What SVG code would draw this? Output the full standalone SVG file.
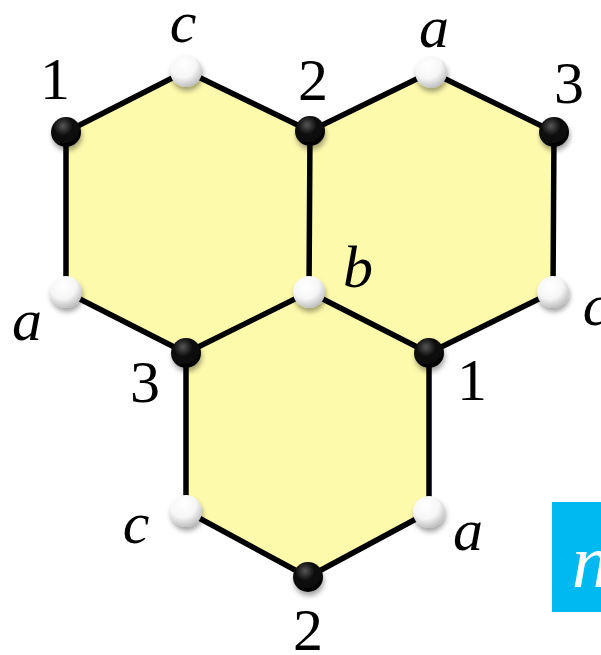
<svg xmlns="http://www.w3.org/2000/svg" width="601" height="655" viewBox="0 0 601 655">
<style>
.hex{fill:#FEFAAC;stroke:none}
.edge{stroke:#000;stroke-width:5.5;stroke-linecap:round}
.w{fill:url(#gw)}
.b{fill:url(#gb)}
.dot{filter:url(#sh)}
.lbl{font-family:"Liberation Serif","Times New Roman",serif;font-size:60px;fill:#000;text-anchor:middle}
.it{font-style:italic}
</style>
<defs>
<radialGradient id="gw" cx="0.4" cy="0.3" r="0.75">
<stop offset="0" stop-color="#ffffff"/>
<stop offset="0.55" stop-color="#f6f6f6"/>
<stop offset="1" stop-color="#b8b8b8"/>
</radialGradient>
<radialGradient id="gb" cx="0.4" cy="0.3" r="0.75">
<stop offset="0" stop-color="#555"/>
<stop offset="0.4" stop-color="#111"/>
<stop offset="1" stop-color="#000"/>
</radialGradient>
<filter id="sh" x="-50%" y="-50%" width="200%" height="200%">
<feDropShadow dx="1" dy="4" stdDeviation="2.5" flood-color="#000" flood-opacity="0.35"/>
</filter>
</defs>
<rect width="601" height="655" fill="#fff"/>
<g id="hex-top-left"><polygon class="hex" points="186,71 66,132 66,292 186,353 309,292 310,131"/></g>
<g id="hex-top-right"><polygon class="hex" points="431,72 310,131 309,292 429,353 553,292 554,132"/></g>
<g id="hex-bottom"><polygon class="hex" points="309,292 186,353 186,511 308,577 429,512 429,353"/></g>
<g id="connectors">
<line class="edge" x1="186" y1="71" x2="66" y2="132"/>
<line class="edge" x1="66" y1="132" x2="66" y2="292"/>
<line class="edge" x1="66" y1="292" x2="186" y2="353"/>
<line class="edge" x1="186" y1="353" x2="309" y2="292"/>
<line class="edge" x1="309" y1="292" x2="310" y2="131"/>
<line class="edge" x1="310" y1="131" x2="186" y2="71"/>
<line class="edge" x1="310" y1="131" x2="431" y2="72"/>
<line class="edge" x1="431" y1="72" x2="554" y2="132"/>
<line class="edge" x1="554" y1="132" x2="553" y2="292"/>
<line class="edge" x1="553" y1="292" x2="429" y2="353"/>
<line class="edge" x1="429" y1="353" x2="309" y2="292"/>
<line class="edge" x1="186" y1="353" x2="186" y2="511"/>
<line class="edge" x1="186" y1="511" x2="308" y2="577"/>
<line class="edge" x1="308" y1="577" x2="429" y2="512"/>
<line class="edge" x1="429" y1="512" x2="429" y2="353"/>
</g>
<g id="v-c-top"><circle class="dot w" cx="186" cy="71" r="16"/><text class="lbl it" x="183" y="42">c</text></g>
<g id="v-1-top"><circle class="dot b" cx="66" cy="132" r="15"/><text class="lbl" x="55" y="99">1</text></g>
<g id="v-a-left"><circle class="dot w" cx="66" cy="292" r="16"/><text class="lbl it" x="27" y="340">a</text></g>
<g id="v-3-left"><circle class="dot b" cx="186" cy="353" r="15"/><text class="lbl" x="145" y="402">3</text></g>
<g id="v-b"><circle class="dot w" cx="309" cy="292" r="16"/><text class="lbl it" x="358" y="287">b</text></g>
<g id="v-2-top"><circle class="dot b" cx="310" cy="131" r="15"/><text class="lbl" x="313" y="100">2</text></g>
<g id="v-a-top"><circle class="dot w" cx="431" cy="72" r="16"/><text class="lbl it" x="434" y="47">a</text></g>
<g id="v-3-right"><circle class="dot b" cx="554" cy="132" r="15"/><text class="lbl" x="569" y="103">3</text></g>
<g id="v-c-right"><circle class="dot w" cx="553" cy="292" r="16"/><text class="lbl it" x="596" y="325">c</text></g>
<g id="v-1-right"><circle class="dot b" cx="429" cy="353" r="15"/><text class="lbl" x="472" y="400">1</text></g>
<g id="v-c-bottom"><circle class="dot w" cx="186" cy="511" r="16"/><text class="lbl it" x="136" y="543">c</text></g>
<g id="v-2-bottom"><circle class="dot b" cx="308" cy="577" r="15"/><text class="lbl" x="308" y="650">2</text></g>
<g id="v-a-bottom"><circle class="dot w" cx="429" cy="512" r="16"/><text class="lbl it" x="468" y="550">a</text></g>
<g id="n-box"><rect x="552" y="502" width="49" height="110" fill="#00B9F1"/><text class="lbl it" x="572" y="587" style="text-anchor:start;font-size:76px;fill:#fff">n</text></g>
</svg>
